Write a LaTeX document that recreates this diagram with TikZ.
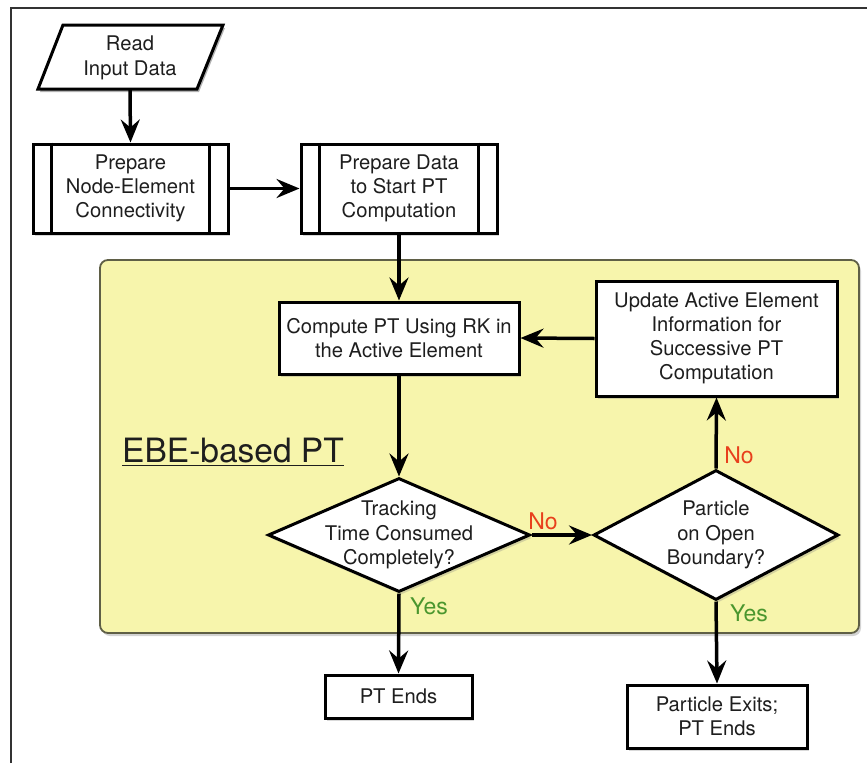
\documentclass[tikz,border=0pt]{standalone}
\usepackage{fontspec}
\setmainfont{TeX Gyre Heros}
\usetikzlibrary{shapes.geometric,arrows.meta,shadows}
\definecolor{ebeyellow}{RGB}{247,245,172}
\definecolor{ebeborder}{RGB}{95,95,70}
\definecolor{nored}{RGB}{232,64,28}
\definecolor{yesgreen}{RGB}{74,150,46}
\definecolor{inkgray}{RGB}{30,30,30}
\begin{document}
\begin{tikzpicture}[x=1pt,y=-1pt,
  shad/.style={drop shadow={shadow xshift=2pt,shadow yshift=-3pt,opacity=0.3}},
  box/.style={draw, line width=3pt, fill=white, align=center, inner sep=0pt,
    font=\fontsize{20.2}{24}\selectfont, text=inkgray, shad},
  dia/.style={draw, diamond, line width=3pt, fill=white, inner sep=0pt, shad},
  txt/.style={align=center, inner sep=0pt, text=inkgray, font=\fontsize{20.2}{24.5}\selectfont},
  arr/.style={line width=3.5pt, -{Stealth[length=23pt,width=19pt,inset=8pt]}},
  lbl/.style={inner sep=0pt, font=\fontsize{23}{26}\selectfont}
]
\useasboundingbox (0,0) rectangle (867,763);
% frame
\draw[line width=1.8pt, black!80] (11,763) -- (11,8) -- (867,8);

% yellow region
\node[draw=ebeborder, line width=1.8pt, fill=ebeyellow, rounded corners=8pt,
  minimum width=759, minimum height=373, inner sep=0pt,
  drop shadow={shadow xshift=2pt,shadow yshift=-3pt,opacity=0.35}] (region) at (479.5,446.5) {};
\node[inner sep=0pt, text=inkgray, font=\fontsize{33.5}{36}\selectfont] (ebe) at (233,452) {\underline{EBE-based PT}};

% read input (parallelogram)
\coordinate (rtl) at (63,25);
\coordinate (rtr) at (223,25);
\coordinate (rbr) at (197,89);
\coordinate (rbl) at (38,89);
\fill[black, opacity=0.3] ([xshift=2pt,yshift=-3pt]rtl) -- ([xshift=2pt,yshift=-3pt]rtr) -- ([xshift=2pt,yshift=-3pt]rbr) -- ([xshift=2pt,yshift=-3pt]rbl) -- cycle;
\draw[line width=3pt, fill=white, line join=miter] (rtl) -- (rtr) -- (rbr) -- (rbl) -- cycle;
\node[txt, minimum width=120, minimum height=64] (read) at (130,58) {Read\\Input Data};

% predefined processes
\node[box, minimum width=195, minimum height=89] (prep1) at (130.5,188.5) {Prepare\\Node-Element\\Connectivity};
\draw[line width=2.5pt] ([xshift=20pt]prep1.north west) -- ([xshift=20pt]prep1.south west);
\draw[line width=2.5pt] ([xshift=-20pt]prep1.north east) -- ([xshift=-20pt]prep1.south east);

\node[box, minimum width=196, minimum height=89] (prep2) at (399,188.5) {Prepare Data\\to Start PT\\Computation};
\draw[line width=2.5pt] ([xshift=20pt]prep2.north west) -- ([xshift=20pt]prep2.south west);
\draw[line width=2.5pt] ([xshift=-20pt]prep2.north east) -- ([xshift=-20pt]prep2.south east);

% processes
\node[box, minimum width=240, minimum height=72] (compute) at (399,338) {Compute PT Using RK in\\the Active Element};
\node[box, minimum width=241, minimum height=115] (update) at (716.5,338.5) {Update Active Element\\Information for\\Successive PT\\Computation};

% decisions
\node[dia, minimum width=262, minimum height=114] (track) at (399,535) {};
\node[txt] (tracktxt) at (399,535) {Tracking\\Time Consumed\\Completely?};
\node[dia, minimum width=245, minimum height=130] (part) at (716,535) {};
\node[txt] (parttxt) at (716,535) {Particle\\on Open\\Boundary?};

% terminals
\node[box, minimum width=147, minimum height=43] (ptend) at (398.5,696.5) {PT Ends};
\node[box, minimum width=180, minimum height=63] (exits) at (717,716.5) {Particle Exits;\\PT Ends};

% connectors
\draw[arr] (read.south) -- (prep1.north);
\draw[arr] (prep1.east) -- (prep2.west);
\draw[arr] (prep2.south) -- (compute.north);
\draw[arr] (compute.south) -- (track.north);
\draw[arr] (track.east) -- (part.west);
\draw[arr] (part.north) -- (update.south);
\draw[arr] (update.west) -- (compute.east);
\draw[arr] (track.south) -- (ptend.north);
\draw[arr] (part.south) -- (exits.north);

% labels
\node[lbl, text=nored] (no1) at (543,521) {No};
\node[lbl, text=nored] (no2) at (739,455) {No};
\node[lbl, text=yesgreen] (yes1) at (429,606) {Yes};
\node[lbl, text=yesgreen] (yes2) at (749,613) {Yes};
\end{tikzpicture}
\end{document}
